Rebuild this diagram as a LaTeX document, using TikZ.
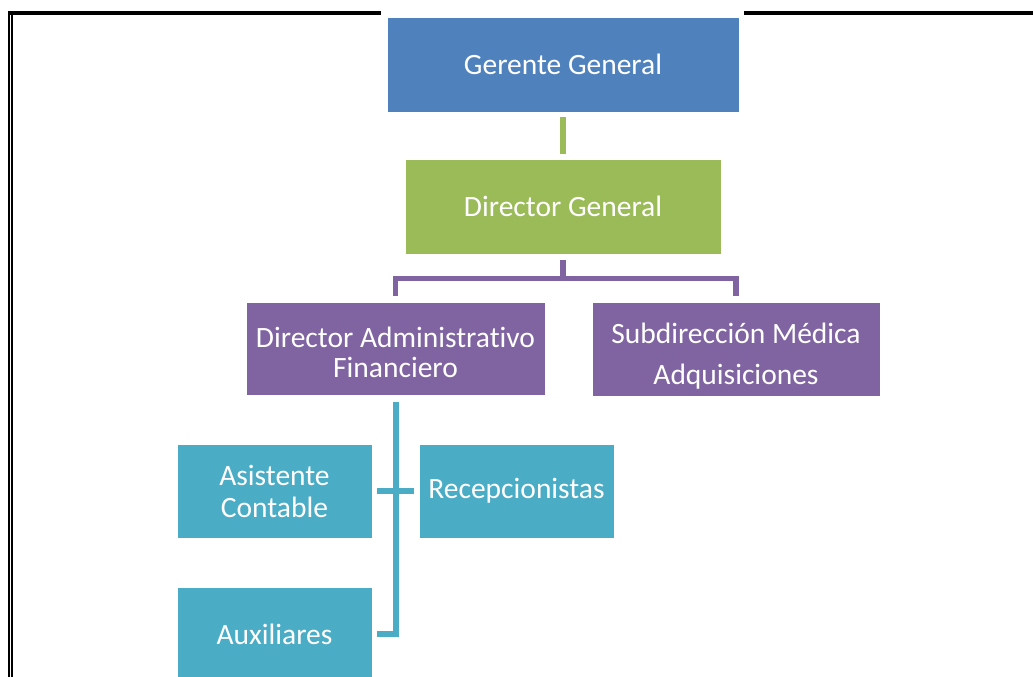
\documentclass[tikz,border=0pt]{standalone}
\usepackage{fontspec}
\setmainfont{Carlito}[Ligatures=NoCommon]
\begin{document}
\begin{tikzpicture}[x=1pt,y=-1pt,
  orgbox/.style={draw=white, line width=0.6pt, inner sep=2pt, align=center,
    text=white, font=\fontsize{29.5}{32}\selectfont},
  link/.style={line width=6pt},
  mgr/.style={orgbox, fill=mgrblue},
  dir/.style={orgbox, fill=dirgreen},
  dept/.style={orgbox, fill=deptpurple},
  staff/.style={orgbox, fill=staffteal}]
\definecolor{mgrblue}{HTML}{4F81BD}
\definecolor{dirgreen}{HTML}{9BBB59}
\definecolor{deptpurple}{HTML}{8064A2}
\definecolor{staffteal}{HTML}{4BACC6}
\useasboundingbox (0,0) rectangle (1033,677);
\fill[white] (0,0) rectangle (1033,677);

% page frame: double rule on the left, heavy rule on top
\draw[line width=2.3pt] (9.3,11) -- (9.3,677);
\draw[line width=1.2pt] (12,13) -- (12,677);
\draw[line width=4pt] (8.2,13) -- (1033,13);
\fill[white] (381,10) rectangle (744,116);

% boxes
\node[mgr, minimum width=352pt, minimum height=95pt] (gg) at (563,64.5) {Gerente General};
\node[dir, minimum width=316pt, minimum height=95pt] (dg) at (563,206.5) {Director General};
\node[dept, minimum width=299pt, minimum height=93pt] (daf) at (395.5,348.5)
  {\rule{0pt}{29pt}Director Administrativo\\[-2pt]Financiero};
\node[dept, minimum width=288pt, minimum height=94pt] (sm) at (736,349)
  {\rule{0pt}{34pt}Subdirección Médica\\[9pt]Adquisiciones};
\node[staff, minimum width=195pt, minimum height=94pt] (ac) at (274.5,491)
  {Asistente\\Contable};
\node[staff, minimum width=195pt, minimum height=94pt] (rc) at (516.5,491)
  {Recepcionistas};
\node[staff, minimum width=195pt, minimum height=94pt] (aux) at (274.5,634)
  {Auxiliares};

% connectors
\draw[link, dirgreen, shorten <=5pt, shorten >=5pt] (gg.south) -- (dg.north);
\draw[link, deptpurple, line width=5.5pt, shorten <=6pt, shorten >=6pt]
  (dg.south) -- ++(0,24) -| (daf.north);
\draw[link, deptpurple, line width=5.5pt, shorten <=6pt, shorten >=6pt]
  (dg.south) -- ++(0,24) -| (sm.north);
\draw[link, staffteal, shorten <=7pt, shorten >=5pt] (daf.south) |- (aux.east);
\draw[link, staffteal, line width=5.5pt, shorten <=5pt, shorten >=5pt] (ac.east) -- (rc.west);
\end{tikzpicture}
\end{document}
